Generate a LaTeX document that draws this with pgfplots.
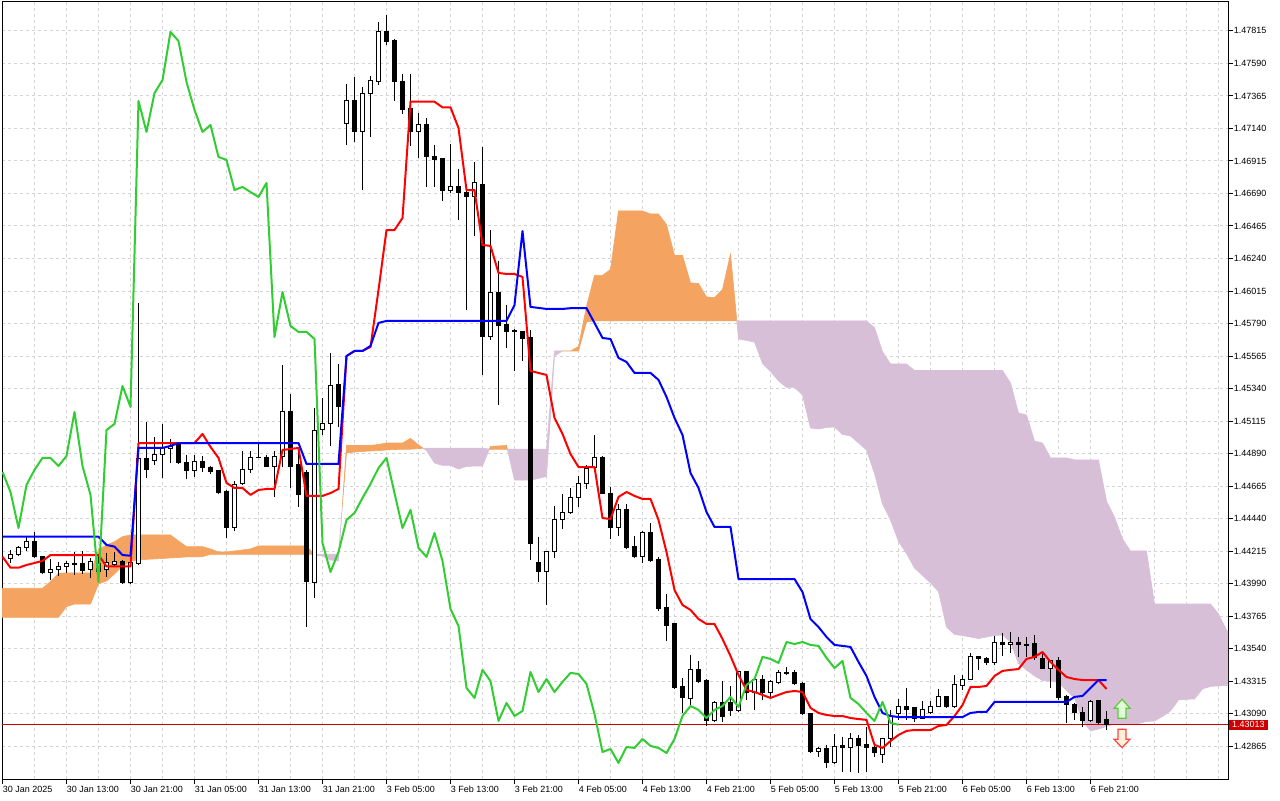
\documentclass[border=0pt]{standalone}
\usepackage{fontspec}
\setmainfont{Liberation Sans}
\usepackage{pgfplots}
\usepackage{pgfplotstable}
\pgfplotsset{compat=1.18}
\definecolor{sandy}{HTML}{F4A460}
\definecolor{thist}{HTML}{D8BFD8}
\definecolor{limeg}{HTML}{32CD32}
\definecolor{gridc}{HTML}{D4D4D4}
\definecolor{bidred}{HTML}{C80000}
\definecolor{boxred}{HTML}{CC0000}
\begin{document}
\pgfplotstableread{
k O H L C
0 1.44161 1.44223 1.44133 1.44195
1 1.44195 1.44251 1.44181 1.44237
2 1.44237 1.44313 1.44216 1.44285
3 1.44285 1.44348 1.44168 1.44175
4 1.44175 1.44181 1.44057 1.44064
5 1.44064 1.44161 1.44015 1.44091
6 1.44091 1.44140 1.44043 1.44112
7 1.44112 1.44147 1.44064 1.44126
8 1.44130 1.44209 1.44050 1.44123
9 1.44126 1.44216 1.44057 1.44078
10 1.44085 1.44168 1.44029 1.44140
11 1.44071 1.44181 1.44029 1.44126
12 1.44085 1.44202 1.44036 1.44133
13 1.44119 1.44209 1.44105 1.44140
14 1.44140 1.44154 1.43988 1.43995
15 1.43995 1.44175 1.43988 1.44133
16 1.44126 1.45932 1.44119 1.44853
17 1.44853 1.45109 1.44721 1.44783
18 1.44839 1.45005 1.44811 1.44887
19 1.44887 1.45095 1.44721 1.44929
20 1.44922 1.44991 1.44825 1.44936
21 1.44950 1.44963 1.44818 1.44825
22 1.44825 1.44880 1.44714 1.44770
23 1.44770 1.44880 1.44728 1.44832
24 1.44832 1.44873 1.44763 1.44797
25 1.44797 1.44804 1.44749 1.44763
26 1.44770 1.44777 1.44611 1.44624
27 1.44631 1.44638 1.44306 1.44375
28 1.44375 1.44700 1.44354 1.44673
29 1.44680 1.44908 1.44673 1.44777
30 1.44783 1.44908 1.44756 1.44860
31 1.44863 1.44956 1.44856 1.44860
32 1.44860 1.44880 1.44797 1.44804
33 1.44804 1.44908 1.44590 1.44873
34 1.44867 1.45503 1.44797 1.45178
35 1.45178 1.45303 1.44652 1.44804
36 1.44811 1.44901 1.44521 1.44604
37 1.44756 1.44777 1.43690 1.44002
38 1.43995 1.45206 1.43891 1.45053
39 1.45060 1.45275 1.45019 1.45095
40 1.45095 1.45586 1.44943 1.45358
41 1.45365 1.45510 1.45074 1.45213
42 1.47171 1.47448 1.47026 1.47330
43 1.47330 1.47496 1.47046 1.47116
44 1.47116 1.47427 1.46714 1.47385
45 1.47385 1.47503 1.47081 1.47475
46 1.47468 1.47877 1.47441 1.47808
47 1.47808 1.47925 1.47718 1.47745
48 1.47752 1.47759 1.47330 1.47462
49 1.47468 1.47517 1.47240 1.47268
50 1.47275 1.47517 1.47019 1.47116
51 1.47116 1.47247 1.46936 1.47164
52 1.47164 1.47212 1.46735 1.46943
53 1.46949 1.47026 1.46735 1.46922
54 1.46929 1.46936 1.46638 1.46714
55 1.46714 1.47032 1.46693 1.46735
56 1.46735 1.46859 1.46507 1.46700
57 1.46700 1.46714 1.45884 1.46666
58 1.46666 1.46908 1.46396 1.46763
59 1.46749 1.47012 1.45434 1.45697
60 1.45697 1.46437 1.45676 1.46008
61 1.46008 1.46223 1.45226 1.45773
62 1.45780 1.45918 1.45621 1.45732
63 1.45745 1.45752 1.45462 1.45732
64 1.45732 1.45738 1.45531 1.45683
65 1.45690 1.45745 1.44154 1.44271
66 1.44133 1.44313 1.44002 1.44071
67 1.44071 1.44216 1.43842 1.44209
68 1.44209 1.44527 1.44168 1.44431
69 1.44431 1.44611 1.44368 1.44479
70 1.44479 1.44652 1.44472 1.44583
71 1.44583 1.44735 1.44521 1.44680
72 1.44680 1.44811 1.44645 1.44790
73 1.44797 1.45019 1.44783 1.44860
74 1.44860 1.44873 1.44611 1.44617
75 1.44617 1.44659 1.44299 1.44375
76 1.44375 1.44541 1.44320 1.44500
77 1.44500 1.44541 1.44230 1.44237
78 1.44244 1.44320 1.44168 1.44175
79 1.44175 1.44354 1.44133 1.44341
80 1.44341 1.44410 1.44140 1.44147
81 1.44154 1.44175 1.43801 1.43815
82 1.43822 1.43919 1.43593 1.43697
83 1.43711 1.43718 1.43261 1.43268
84 1.43275 1.43337 1.43095 1.43199
85 1.43192 1.43496 1.43150 1.43393
86 1.43399 1.43455 1.43303 1.43316
87 1.43323 1.43330 1.43005 1.43040
88 1.43040 1.43178 1.43033 1.43164
89 1.43164 1.43316 1.43033 1.43074
90 1.43164 1.43282 1.43074 1.43109
91 1.43109 1.43386 1.43102 1.43379
92 1.43379 1.43386 1.43185 1.43240
93 1.43240 1.43337 1.43116 1.43330
94 1.43330 1.43358 1.43185 1.43240
95 1.43240 1.43323 1.43206 1.43310
96 1.43303 1.43393 1.43296 1.43372
97 1.43372 1.43413 1.43358 1.43365
98 1.43372 1.43393 1.43289 1.43296
99 1.43296 1.43310 1.43081 1.43088
100 1.43088 1.43095 1.42818 1.42825
101 1.42825 1.42860 1.42791 1.42846
102 1.42846 1.42874 1.42714 1.42749
103 1.42749 1.42950 1.42742 1.42860
104 1.42867 1.42929 1.42687 1.42853
105 1.42853 1.42957 1.42687 1.42915
106 1.42915 1.42943 1.42680 1.42867
107 1.42874 1.42998 1.42687 1.42853
108 1.42853 1.42894 1.42791 1.42818
109 1.42811 1.42922 1.42749 1.42915
110 1.42915 1.43116 1.42860 1.43074
111 1.43088 1.43192 1.43047 1.43143
112 1.43143 1.43268 1.43047 1.43116
113 1.43130 1.43137 1.43033 1.43060
114 1.43060 1.43178 1.43053 1.43116
115 1.43095 1.43178 1.43088 1.43143
116 1.43143 1.43261 1.43137 1.43206
117 1.43206 1.43213 1.43130 1.43137
118 1.43137 1.43358 1.43130 1.43289
119 1.43282 1.43358 1.43254 1.43330
120 1.43330 1.43510 1.43323 1.43483
121 1.43483 1.43489 1.43393 1.43469
122 1.43469 1.43483 1.43427 1.43441
123 1.43441 1.43628 1.43427 1.43586
124 1.43586 1.43649 1.43489 1.43572
125 1.43572 1.43656 1.43510 1.43586
126 1.43586 1.43621 1.43483 1.43566
127 1.43572 1.43621 1.43483 1.43559
128 1.43579 1.43635 1.43462 1.43476
129 1.43469 1.43517 1.43399 1.43406
130 1.43406 1.43462 1.43268 1.43455
131 1.43455 1.43483 1.43185 1.43199
132 1.43206 1.43220 1.43026 1.43157
133 1.43157 1.43164 1.43047 1.43095
134 1.43095 1.43137 1.42998 1.43040
135 1.43040 1.43185 1.43033 1.43171
136 1.43178 1.43185 1.43019 1.43026
137 1.43047 1.43109 1.42977 1.43013
}\candles
\pgfplotstableread{
k T K
-1 1.44176 1.44315
0 1.44100 1.44315
1 1.44100 1.44315
2 1.44119 1.44315
3 1.44133 1.44315
4 1.44147 1.44315
5 1.44188 1.44315
6 1.44188 1.44315
7 1.44188 1.44315
8 1.44188 1.44315
9 1.44188 1.44315
10 1.44188 1.44315
11 1.44188 1.44315
12 1.44109 1.44258
13 1.44109 1.44246
14 1.44109 1.44188
15 1.44109 1.44183
16 1.44963 1.44929
17 1.44963 1.44929
18 1.44963 1.44929
19 1.44963 1.44929
20 1.44963 1.44943
21 1.44963 1.44963
22 1.44963 1.44963
23 1.44963 1.44963
24 1.45026 1.44963
25 1.44936 1.44963
26 1.44860 1.44963
27 1.44687 1.44963
28 1.44652 1.44963
29 1.44652 1.44963
30 1.44604 1.44963
31 1.44638 1.44963
32 1.44645 1.44963
33 1.44645 1.44963
34 1.44915 1.44963
35 1.44922 1.44963
36 1.44929 1.44963
37 1.44597 1.44818
38 1.44597 1.44818
39 1.44597 1.44818
40 1.44617 1.44818
41 1.44645 1.44818
42 1.45565 1.45565
43 1.45600 1.45600
44 1.45600 1.45600
45 1.45628 1.45635
46 1.46022 1.45794
47 1.46437 1.45808
48 1.46437 1.45808
49 1.46520 1.45808
50 1.47325 1.45808
51 1.47325 1.45808
52 1.47325 1.45808
53 1.47325 1.45808
54 1.47286 1.45808
55 1.47286 1.45808
56 1.47143 1.45808
57 1.46714 1.45808
58 1.46714 1.45808
59 1.46334 1.45808
60 1.46327 1.45808
61 1.46140 1.45808
62 1.46133 1.45808
63 1.46133 1.45918
64 1.46112 1.46430
65 1.45462 1.45905
66 1.45448 1.45898
67 1.45434 1.45891
68 1.45137 1.45891
69 1.45026 1.45891
70 1.44887 1.45896
71 1.44797 1.45896
72 1.44797 1.45896
73 1.44797 1.45794
74 1.44444 1.45690
75 1.44437 1.45683
76 1.44590 1.45552
77 1.44624 1.45524
78 1.44597 1.45448
79 1.44576 1.45448
80 1.44576 1.45448
81 1.44431 1.45400
82 1.44209 1.45282
83 1.43946 1.45137
84 1.43842 1.45019
85 1.43808 1.44756
86 1.43745 1.44652
87 1.43711 1.44486
88 1.43711 1.44382
89 1.43607 1.44382
90 1.43489 1.44382
91 1.43358 1.44022
92 1.43254 1.44022
93 1.43240 1.44022
94 1.43220 1.44022
95 1.43199 1.44022
96 1.43220 1.44022
97 1.43240 1.44022
98 1.43247 1.44022
99 1.43240 1.43932
100 1.43130 1.43745
101 1.43095 1.43690
102 1.43081 1.43621
103 1.43074 1.43566
104 1.43074 1.43559
105 1.43060 1.43552
106 1.43053 1.43448
107 1.43047 1.43351
108 1.42874 1.43206
109 1.42853 1.43095
110 1.42901 1.43074
111 1.42943 1.43067
112 1.42971 1.43067
113 1.42977 1.43067
114 1.42977 1.43067
115 1.42977 1.43067
116 1.43005 1.43067
117 1.43012 1.43067
118 1.43074 1.43067
119 1.43150 1.43067
120 1.43275 1.43095
121 1.43275 1.43102
122 1.43282 1.43102
123 1.43351 1.43171
124 1.43386 1.43171
125 1.43393 1.43171
126 1.43399 1.43171
127 1.43469 1.43171
128 1.43483 1.43171
129 1.43517 1.43171
130 1.43448 1.43171
131 1.43393 1.43171
132 1.43344 1.43171
133 1.43330 1.43206
134 1.43323 1.43213
135 1.43323 1.43268
136 1.43323 1.43323
137 1.43261 1.43323
}\tk
\begin{tikzpicture}
\fill[white] (0,0) rectangle (640pt,400pt);
\path[use as bounding box] (0,0) rectangle (640pt,400pt);
\begin{axis}[
  at={(1pt,10.5pt)}, anchor=south west,
  scale only axis, width=613pt, height=388.5pt,
  xmin=-1.0625, xmax=152.1875, ymin=1.42638, ymax=1.48015,
  axis line style={black, line width=0.5pt},
  every tick/.style={black, line width=0.5pt},
  tick align=outside,
  major tick length=2.5pt,
  minor tick length=0pt,
  xtick pos=left, ytick pos=right,
  yticklabel pos=right,
  xtick={-1,7,15,23,31,39,47,55,63,71,79,87,95,103,111,119,127,135},
  xticklabels={30 Jan 2025,30 Jan 13:00,30 Jan 21:00,31 Jan 05:00,31 Jan 13:00,31 Jan 21:00,3 Feb 05:00,3 Feb 13:00,3 Feb 21:00,4 Feb 05:00,4 Feb 13:00,4 Feb 21:00,5 Feb 05:00,5 Feb 13:00,5 Feb 21:00,6 Feb 05:00,6 Feb 13:00,6 Feb 21:00},
  minor xtick={-1,3,...,151},
  ytick={1.42865,1.43090,1.43315,1.43540,1.43765,1.43990,1.44215,1.44440,1.44665,1.44890,1.45115,1.45340,1.45565,1.45790,1.46015,1.46240,1.46465,1.46690,1.46915,1.47140,1.47365,1.47590,1.47815},
  yticklabels={1.42865,1.43090,1.43315,1.43540,1.43765,1.43990,1.44215,1.44440,1.44665,1.44890,1.45115,1.45340,1.45565,1.45790,1.46015,1.46240,1.46465,1.46690,1.46915,1.47140,1.47365,1.47590,1.47815},
  xmajorgrids=false, xminorgrids=true, ymajorgrids=true,
  major grid style={gridc, dash pattern=on 1.5pt off 1.5pt, line width=0.5pt},
  minor grid style={gridc, dash pattern=on 1.5pt off 1.5pt, line width=0.5pt},
  xticklabel style={font=\fontsize{4.5}{5}\selectfont, anchor=north west, inner sep=0pt, yshift=-0.8pt},
  yticklabel style={font=\fontsize{4.5}{5}\selectfont, anchor=west, inner sep=0pt, xshift=0.2pt},
  extra y ticks={1.43013},
  extra y tick labels={1.43013},
  extra y tick style={major tick length=0pt, grid=none,
     yticklabel style={fill=boxred, text=white, inner xsep=1.6pt, inner ysep=0.9pt, xshift=0pt}},
]
% --- Kumo (cloud) ---
\addplot[fill=sandy, draw=sandy, line width=0.3pt] coordinates {
(-1.1,1.43958) (4,1.43958) (5,1.44004) (6,1.44062) (7,1.44064) (10,1.44064) (11,1.44223) (12,1.44258) (13,1.44280) (14,1.44315) (15,1.44327) (20,1.44327) (21,1.44285) (22,1.44246) (24,1.44246) (25,1.44230) (26,1.44209) (27,1.44209) (28,1.44216) (29,1.44223) (30,1.44230) (31,1.44251) (37,1.44251) (37.92,1.44193)
(37,1.44193) (25,1.44193) (24,1.44177) (23,1.44175) (22,1.44175) (21,1.44171) (20,1.44168) (19,1.44164) (18,1.44161) (17,1.44158) (16,1.44154) (15,1.44147) (14,1.44112) (13,1.44057) (12,1.44008) (11,1.43988) (10,1.43849) (8,1.43849) (7,1.43831) (6,1.43757) (-1.1,1.43757)} -- cycle;
\addplot[fill=thist, draw=thist, line width=0.3pt] coordinates {
(37.92,1.44193) (41,1.44193) (41.47,1.44522) (41,1.44147) (40,1.44154) (39,1.44181) (38,1.44188)} -- cycle;
\addplot[fill=sandy, draw=sandy, line width=0.3pt] coordinates {
(41.47,1.44522) (42,1.44946) (45,1.44946) (46,1.44953) (47,1.44963) (49,1.44963) (50,1.44995) (51,1.44950) (51.61,1.44926) (51,1.44925) (50,1.44920) (49,1.44920) (48,1.44918) (47,1.44915) (46,1.44911) (45,1.44908) (44,1.44905) (43,1.44901) (42,1.44894)} -- cycle;
\addplot[fill=thist, draw=thist, line width=0.3pt] coordinates {
(51.61,1.44926) (52,1.44927) (59,1.44927) (59.86,1.44921) (59,1.44804) (58,1.44804) (57,1.44801) (56,1.44783) (55,1.44808) (54,1.44808) (53,1.44825) (52,1.44911)} -- cycle;
\addplot[fill=sandy, draw=sandy, line width=0.3pt] coordinates {
(59.86,1.44921) (60,1.44939) (61,1.44943) (62,1.44946) (62.11,1.44920) (62,1.44920) (60,1.44920)} -- cycle;
\addplot[fill=thist, draw=thist, line width=0.3pt] coordinates {
(62.11,1.44920) (67,1.44920) (68,1.45600) (69,1.45600) (68,1.45565) (67,1.44732) (66,1.44718) (65,1.44707) (63,1.44707)} -- cycle;
\addplot[fill=sandy, draw=sandy, line width=0.3pt] coordinates {
(69,1.45600) (70,1.45600) (71,1.45631) (72,1.45908) (73,1.46123) (74,1.46123) (75,1.46164) (76,1.46569) (79,1.46569) (80,1.46548) (81,1.46548) (82,1.46475) (83,1.46261) (84,1.46261) (85,1.46071) (86,1.46067) (87,1.45974) (88,1.45970) (89,1.46026) (90,1.46271) (90.79,1.45808) (73,1.45808) (72,1.45801) (71,1.45600)} -- cycle;
\addplot[fill=thist, draw=thist, line width=0.3pt] coordinates {
(90.79,1.45808) (91,1.45808) (107,1.45808) (108,1.45761) (109,1.45595) (110,1.45510) (112,1.45510) (113,1.45465) (124,1.45465) (125,1.45379) (126,1.45171) (127,1.45157) (128,1.44977) (129,1.44963) (130,1.44860) (132,1.44860) (133,1.44846) (136,1.44846) (137,1.44562) (138,1.44451) (139,1.44299) (140,1.44216) (142,1.44216) (143,1.43849) (150,1.43849) (151,1.43780) (152,1.43669) (153,1.43611)
(153,1.43320) (152,1.43285) (151,1.43282) (150,1.43279) (149,1.43261) (148,1.43192) (147,1.43189) (146,1.43185) (145,1.43109) (144,1.43071) (143,1.43040) (142,1.43036) (141,1.43022) (139,1.43022) (138,1.43019) (137,1.43002) (136,1.42984) (135,1.42971) (134,1.43040) (133,1.43199) (132,1.43251) (131,1.43306) (130,1.43316) (129,1.43320) (128,1.43351) (127,1.43393) (126,1.43438) (125,1.43586) (124,1.43635) (123,1.43631) (122,1.43621) (121,1.43610) (120,1.43621) (119,1.43631) (118,1.43638) (117,1.43690) (116,1.43936) (115,1.43995) (114,1.44047) (113,1.44098) (112,1.44199) (111,1.44282) (110,1.44431) (109,1.44541) (108,1.44752) (107,1.44915) (105,1.45012) (104,1.45022) (103,1.45074) (102,1.45071) (101,1.45060) (100,1.45067) (99,1.45296) (98,1.45348) (97,1.45348) (96,1.45393) (95,1.45458) (94,1.45514) (93,1.45662) (92,1.45673) (91,1.45683)} -- cycle;
% --- bid line ---
\addplot[bidred, line width=0.5pt] coordinates {(-1.0625,1.43013) (152.1875,1.43013)};
% --- candles ---
\pgfplotsforeachungrouped \i in {0,...,137}{%
  \pgfplotstablegetelem{\i}{O}\of\candles\let\vO\pgfplotsretval
  \pgfplotstablegetelem{\i}{H}\of\candles\let\vH\pgfplotsretval
  \pgfplotstablegetelem{\i}{L}\of\candles\let\vL\pgfplotsretval
  \pgfplotstablegetelem{\i}{C}\of\candles\let\vC\pgfplotsretval
  \pgfmathsetmacro\xl{\i-0.25}%
  \pgfmathsetmacro\xr{\i+0.25}%
  \pgfmathtruncatemacro\bull{\vC>\vO ? 1 : 0}%
  \ifnum\bull=1 \def\bfill{white}\else\def\bfill{black}\fi
  \edef\doplot{%
    \noexpand\addplot[forget plot, black, line width=0.5pt] coordinates {(\i,\vL) (\i,\vH)};%
    \noexpand\addplot[forget plot, draw=black, fill=\bfill, line width=0.5pt] coordinates {(\xl,\vO) (\xr,\vO) (\xr,\vC) (\xl,\vC)} -- cycle;%
  }%
  \doplot
}
% --- Tenkan, Kijun, Chikou ---
\addplot[red, line width=1pt, line join=round] table[x=k, y=T] {\tk};
\addplot[blue, line width=1pt, line join=round] table[x=k, y=K] {\tk};
\addplot[limeg, line width=1pt, line join=round, skip coords between index={0}{25}] table[x expr=\thisrow{k}-26, y=C] {\candles};
% --- signal arrows ---
\addplot[draw={rgb,255:red,90;green,205;blue,60}, fill={rgb,255:red,225;green,250;blue,215}, line width=0.6pt] coordinates {(138.94,1.43190) (139.94,1.43127) (139.44,1.43127) (139.44,1.43059) (138.44,1.43059) (138.44,1.43127) (137.94,1.43127)} -- cycle;
\addplot[draw={rgb,255:red,255;green,70;blue,70}, fill={rgb,255:red,255;green,240;blue,215}, line width=0.6pt] coordinates {(138.44,1.42982) (139.44,1.42982) (139.44,1.42913) (139.94,1.42913) (138.94,1.42855) (137.94,1.42913) (138.44,1.42913)} -- cycle;
\end{axis}
\end{tikzpicture}
\end{document}
